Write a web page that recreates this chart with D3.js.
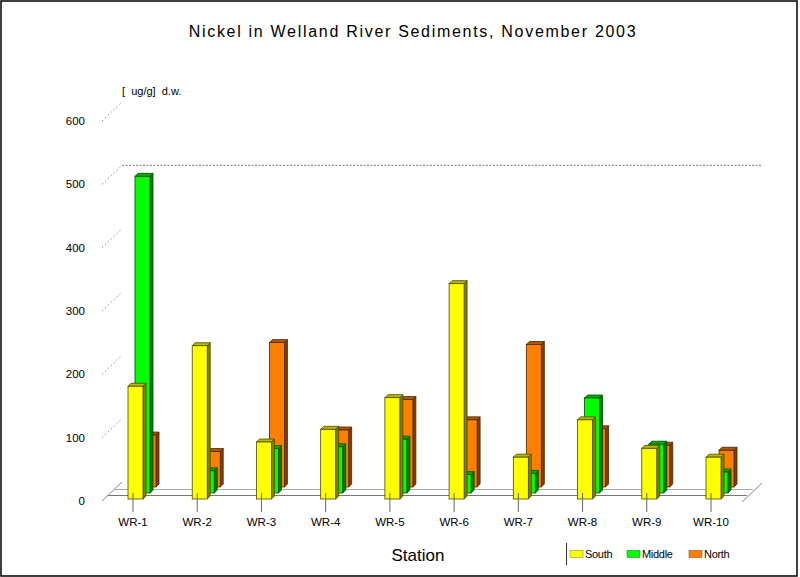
<!DOCTYPE html>
<html>
<head>
<meta charset="utf-8">
<script src="https://cdn.jsdelivr.net/npm/d3@7/dist/d3.min.js"></script>
<style>
  html, body { margin: 0; padding: 0; background: #fff; }
  svg { display: block; font-family: "Liberation Sans", Arial, sans-serif; }
</style>
</head>
<body>
<svg id="chart" width="800" height="577"></svg>
<script>
// Nickel concentrations (ug/g dry weight) by station and sampling position
const categories = ["WR-1", "WR-2", "WR-3", "WR-4", "WR-5", "WR-6", "WR-7", "WR-8", "WR-9", "WR-10"];
const south  = [178, 242, 90, 110, 160, 340, 66, 125, 80, 66];
const middle = [500, 35, 70, 73, 85, 29, 31, 150, 77, 33];
const north  = [82, 56, 228, 90, 138, 106, 225, 92, 66, 58];
const yTicks = [0, 100, 200, 300, 400, 500, 600];
const seriesNames = ["South", "Middle", "North"];

const svg = d3.select("#chart");
const W = 800, H = 577;

// frame
svg.append("rect").attr("x", 1).attr("y", 1).attr("width", W - 4).attr("height", H - 2)
  .attr("fill", "#fff").attr("stroke", "#000").attr("stroke-width", 1.5);

const x = d3.scalePoint().domain(categories).range([133, 711]);
const y = d3.scaleLinear().domain([0, 600]).range([501, 121]);

// depth of the chart box
const DX = 20, DY = 19;

// series styling and depth placement (front to back)
const series = [
  { name: "South",  values: south,  fill: "#ffff00", top: "#b8b800", side: "#808000", edge: "#4a4a00", dx: 0,  dy: -2 },
  { name: "Middle", values: middle, fill: "#00ff00", top: "#00b000", side: "#008000", edge: "#004a00", dx: 7,  dy: -8 },
  { name: "North",  values: north,  fill: "#ff8000", top: "#b05800", side: "#804000", edge: "#4a2500", dx: 13, dy: -14 }
];

// title
svg.append("text").attr("x", 413).attr("y", 37).attr("text-anchor", "middle")
  .attr("font-size", 16).attr("letter-spacing", 1.7).attr("fill", "#000")
  .text("Nickel in Welland River Sediments, November 2003");

// unit label
svg.append("text").attr("x", 122).attr("y", 95).attr("font-size", 11)
  .attr("xml:space", "preserve").style("white-space", "pre")
  .text("[  ug/g]  d.w.");

// y tick labels and dotted depth lines
const gy = svg.append("g");
yTicks.forEach(v => {
  gy.append("text").attr("x", 85).attr("y", y(v)).attr("dy", "0.35em")
    .attr("text-anchor", "end").attr("font-size", 11.5).text(v);
  gy.append("line").attr("x1", 102).attr("y1", y(v)).attr("x2", 102 + DX).attr("y2", y(v) - DY)
    .attr("stroke", "#888").attr("stroke-width", 1)
    .attr("stroke-dasharray", v === 0 ? null : "1.5,2.5");
});

// reference line at 500 along the back wall
svg.append("line").attr("x1", 102 + DX).attr("y1", y(500) - DY).attr("x2", 762).attr("y2", y(500) - DY)
  .attr("stroke", "#777").attr("stroke-width", 1).attr("stroke-dasharray", "2,1.5");

// floor
const floor = svg.append("g");
floor.append("line").attr("x1", 115).attr("y1", 489.5).attr("x2", 753).attr("y2", 489.5)
  .attr("stroke", "#aaa").attr("stroke-width", 1);
floor.append("line").attr("x1", 108).attr("y1", 495.5).attr("x2", 747).attr("y2", 495.5)
  .attr("stroke", "#777").attr("stroke-width", 1);
floor.append("line").attr("x1", 742).attr("y1", y(0) + 1).attr("x2", 742 + DX).attr("y2", y(0) + 1 - DY)
  .attr("stroke", "#888").attr("stroke-width", 1);

// 3D bars, back series first
const BW = 15, BD = 3;
const gBars = svg.append("g");
series.slice().reverse().forEach(s => {
  const g = gBars.append("g");
  categories.forEach((c, i) => {
    const v = s.values[i];
    const x0 = x(c) - 5 + s.dx;
    const yb = y(0) + s.dy;
    const yt = y(v) + s.dy;
    // side face
    g.append("polygon")
      .attr("points", [[x0 + BW, yt], [x0 + BW + BD, yt - BD], [x0 + BW + BD, yb - BD], [x0 + BW, yb]].join(" "))
      .attr("fill", s.side).attr("stroke", s.edge).attr("stroke-width", 0.8);
    // top face
    g.append("polygon")
      .attr("points", [[x0, yt], [x0 + BD, yt - BD], [x0 + BW + BD, yt - BD], [x0 + BW, yt]].join(" "))
      .attr("fill", s.top).attr("stroke", s.edge).attr("stroke-width", 0.8);
    // front face
    g.append("rect").attr("x", x0).attr("y", yt).attr("width", BW).attr("height", yb - yt)
      .attr("fill", s.fill).attr("stroke", s.edge).attr("stroke-width", 0.8);
  });
});

// x ticks and labels
const gx = svg.append("g");
categories.forEach(c => {
  gx.append("line").attr("x1", x(c)).attr("y1", 493).attr("x2", x(c)).attr("y2", 512)
    .attr("stroke", "#666").attr("stroke-width", 1);
  gx.append("text").attr("x", x(c)).attr("y", 526).attr("text-anchor", "middle")
    .attr("font-size", 11.5).text(c);
});

// x axis title
svg.append("text").attr("x", 418).attr("y", 561).attr("text-anchor", "middle")
  .attr("font-size", 17).text("Station");

// legend
const lg = svg.append("g");
lg.append("line").attr("x1", 566.5).attr("y1", 543).attr("x2", 566.5).attr("y2", 565)
  .attr("stroke", "#333").attr("stroke-width", 1);
const legendX = [570, 627, 689];
series.forEach((s, i) => {
  lg.append("rect").attr("x", legendX[i]).attr("y", 550.5).attr("width", 13).attr("height", 7)
    .attr("fill", s.fill).attr("stroke", s.side).attr("stroke-width", 0.5);
  lg.append("text").attr("x", legendX[i] + 15).attr("y", 558).attr("font-size", 11)
    .attr("letter-spacing", -0.3).text(seriesNames[i]);
});
</script>
</body>
</html>
